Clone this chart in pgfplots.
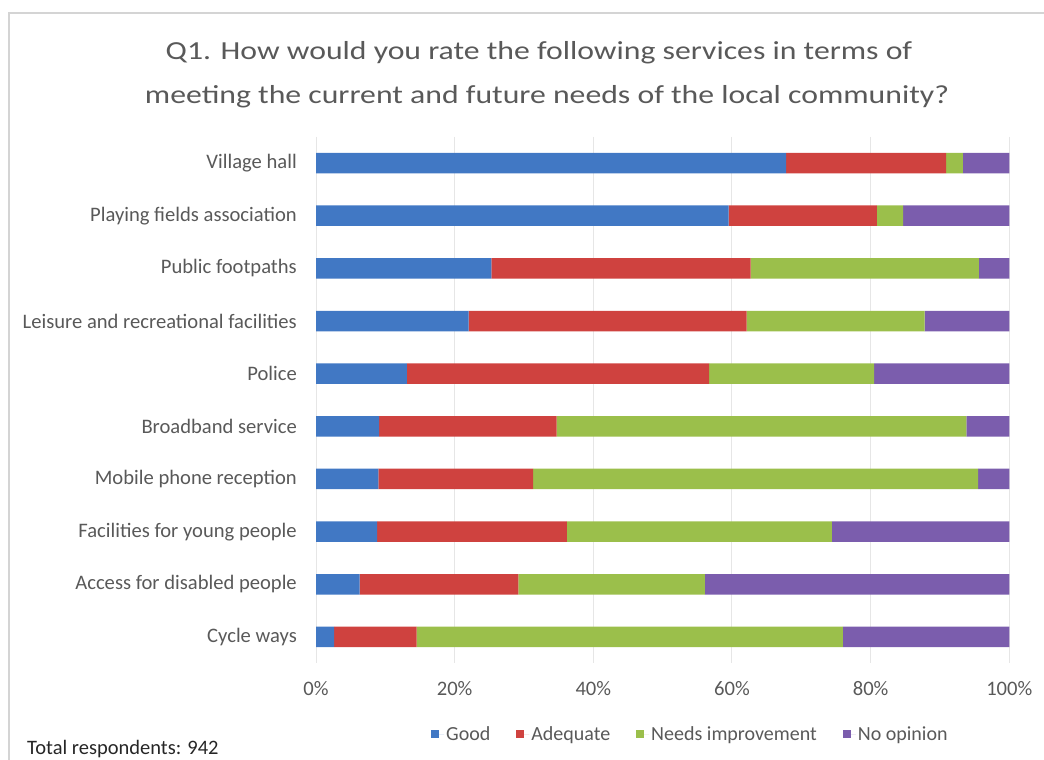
\documentclass[border=0pt]{standalone}
\usepackage{fontspec}
\setmainfont{Carlito}
\newfontfamily\titlefont{Carlito}[FakeStretch=1.22]
\usepackage{pgfplots}
\usepackage{pgfplotstable}
\pgfplotsset{compat=1.18}
\definecolor{cgood}{HTML}{4178C4}
\definecolor{cadeq}{HTML}{CF423F}
\definecolor{cneed}{HTML}{9BBF4B}
\definecolor{cnoop}{HTML}{7B5DAD}
\definecolor{labelgray}{HTML}{595959}
\definecolor{gridgray}{HTML}{E6E6E6}
\definecolor{framegray}{HTML}{D4D4D4}
\pgfplotstableread{
idx good adequate needs noop
0 67.8 23.1 2.4 6.7
1 59.5 21.4 3.8 15.3
2 25.3 37.4 32.9 4.4
3 22.0 40.1 25.7 12.2
4 13.1 43.6 23.8 19.5
5 9.1 25.6 59.1 6.2
6 9.0 22.3 64.2 4.5
7 8.8 27.4 38.2 25.6
8 6.3 22.9 26.9 43.9
9 2.6 11.9 61.5 24.0
}\datatable
\begin{document}
\begin{tikzpicture}
\path[use as bounding box] (0pt,0pt) rectangle (1044pt,760pt);
\draw[framegray, line width=2pt] (9pt,0pt) -- (9pt,747pt) -- (1044pt,747pt);
\node[anchor=base, text=labelgray, font=\titlefont\fontsize{26}{30}\selectfont] at (539pt,700pt) {Q1. How would you rate the following services in terms of};
\node[anchor=base, text=labelgray, font=\titlefont\fontsize{26}{30}\selectfont] at (547pt,656pt) {meeting the current and future needs of the local community?};
\node[anchor=base west, inner sep=0pt, text=black!85, font=\fontsize{20.5}{24}\selectfont] at (27pt,5pt) {Total respondents: 942};
\begin{axis}[
  at={(316pt,96.7pt)}, anchor=south west,
  scale only axis, width=693.3pt, height=526.6pt,
  xbar stacked, bar width=20.5pt,
  xmin=0, xmax=100, ymin=-0.5, ymax=9.5, y dir=reverse,
  ytick={0,1,2,3,4,5,6,7,8,9},
  yticklabels={Village hall, Playing fields association, Public footpaths, Leisure and recreational facilities, Police, Broadband service, Mobile phone reception, Facilities for young people, Access for disabled people, Cycle ways},
  xtick={0,20,40,60,80,100},
  xticklabels={0\%,20\%,40\%,60\%,80\%,100\%},
  xmajorgrids, grid style={draw=gridgray, line width=1pt},
  axis line style={draw=none}, tick style={draw=none},
  ticklabel style={font=\fontsize{20.6}{24}\selectfont, text=labelgray},
  yticklabel style={anchor=east, inner sep=0pt, xshift=-19pt},
  xticklabel style={anchor=base, inner sep=0pt, yshift=-32pt},
  legend columns=4,
  legend style={at={(0.54,-0.135)}, anchor=center, draw=none, fill=none,
    font=\fontsize{20}{24}\selectfont, text=labelgray,
    /tikz/every even column/.append style={column sep=24pt}},
  legend image code/.code={\fill[#1] (0pt,-4pt) rectangle (8pt,4pt); \path (0pt,0pt) -- (13pt,0pt);},
]
\addplot[fill=cgood, draw=none] table[x=good, y=idx] {\datatable};
\addplot[fill=cadeq, draw=none] table[x=adequate, y=idx] {\datatable};
\addplot[fill=cneed, draw=none] table[x=needs, y=idx] {\datatable};
\addplot[fill=cnoop, draw=none] table[x=noop, y=idx] {\datatable};
\legend{Good, Adequate, Needs improvement, No opinion}
\end{axis}
\end{tikzpicture}
\end{document}
